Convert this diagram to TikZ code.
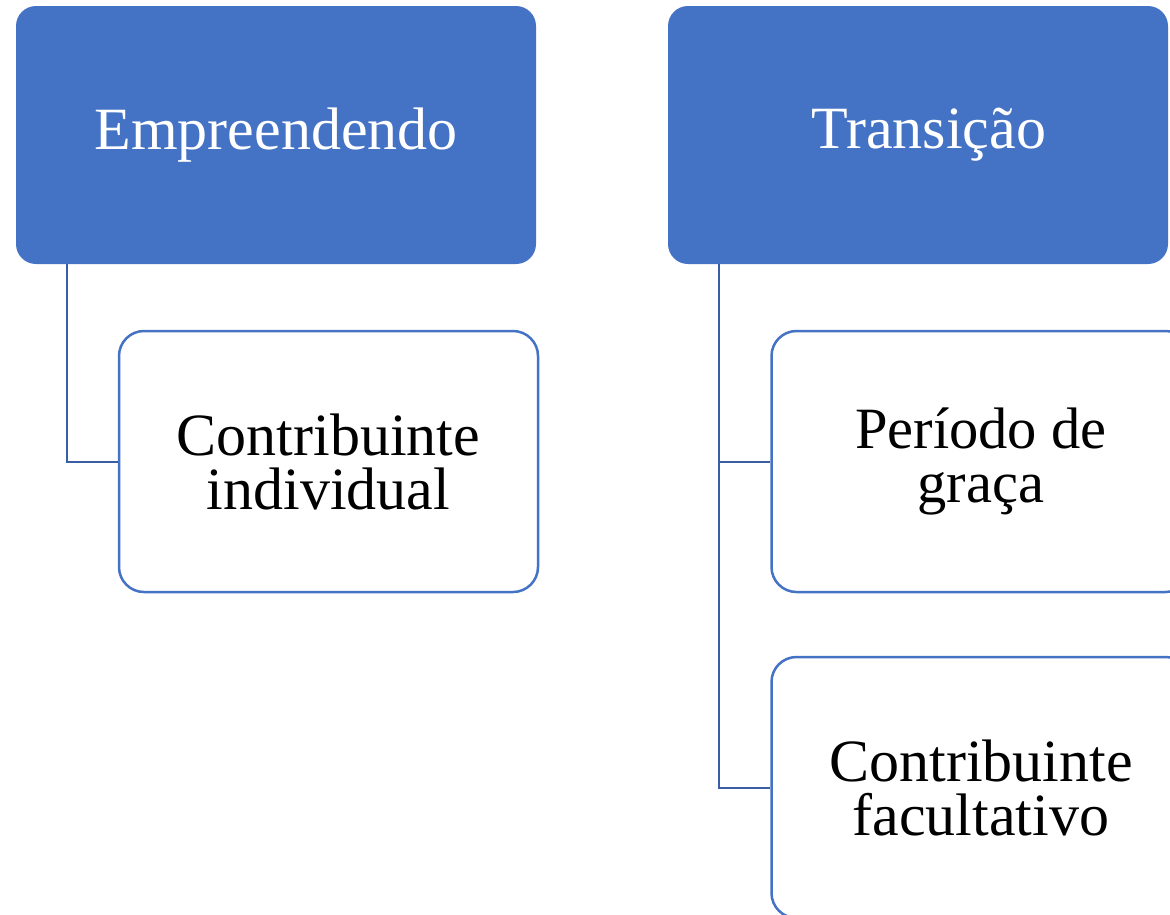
\documentclass[tikz,border=0pt]{standalone}
\usepackage{fontspec}
\setmainfont{Liberation Serif}
\usetikzlibrary{positioning}

\definecolor{accent}{HTML}{4472C4}
\definecolor{linkblue}{HTML}{3A5DA8}

\tikzset{
	headbox/.style={fill=accent, rounded corners=20pt, text=white, inner sep=0pt,
		minimum height=258pt, font=\fontsize{60}{54}\selectfont},
	itembox/.style={draw=accent, fill=white, line width=2.5pt, rounded corners=25pt,
		inner sep=0pt, minimum width=419pt, minimum height=261pt, align=center,
		font=\fontsize{60}{54}\selectfont},
	link/.style={draw=linkblue, line width=2pt}
}

\begin{document}
\begin{tikzpicture}[x=1pt,y=-1pt]
	\useasboundingbox (0,0) rectangle (1170,914);	%page size as in the reference
	\clip (0,0) rectangle (1170,914);
	
	%top row
	\node[headbox, minimum width=520pt] (emp) at (276,135) {Empreendendo};
	\node[headbox, minimum width=500pt] (tra) at (918,135) {};
	\node[text=white, font=\fontsize{60}{54}\selectfont] (tralbl) at (929,135) {Transição};
	
	%children
	\node[itembox] (ci) at (328.5,461.5) {Contribuinte\\individual};
	\node[itembox, font=\fontsize{58.5}{54}\selectfont] (pg) at (981,461.5) {Período de\\graça};
	\node[itembox] (cf) at (981,787.5) {Contribuinte\\facultativo};
	
	%connectors
	\coordinate (e0) at (67,264);
	\coordinate (t0) at (719,264);
	\draw[link] (e0) |- (ci.west);
	\draw[link] (t0) |- (pg.west);
	\draw[link] (t0) |- (cf.west);
\end{tikzpicture}
\end{document}
